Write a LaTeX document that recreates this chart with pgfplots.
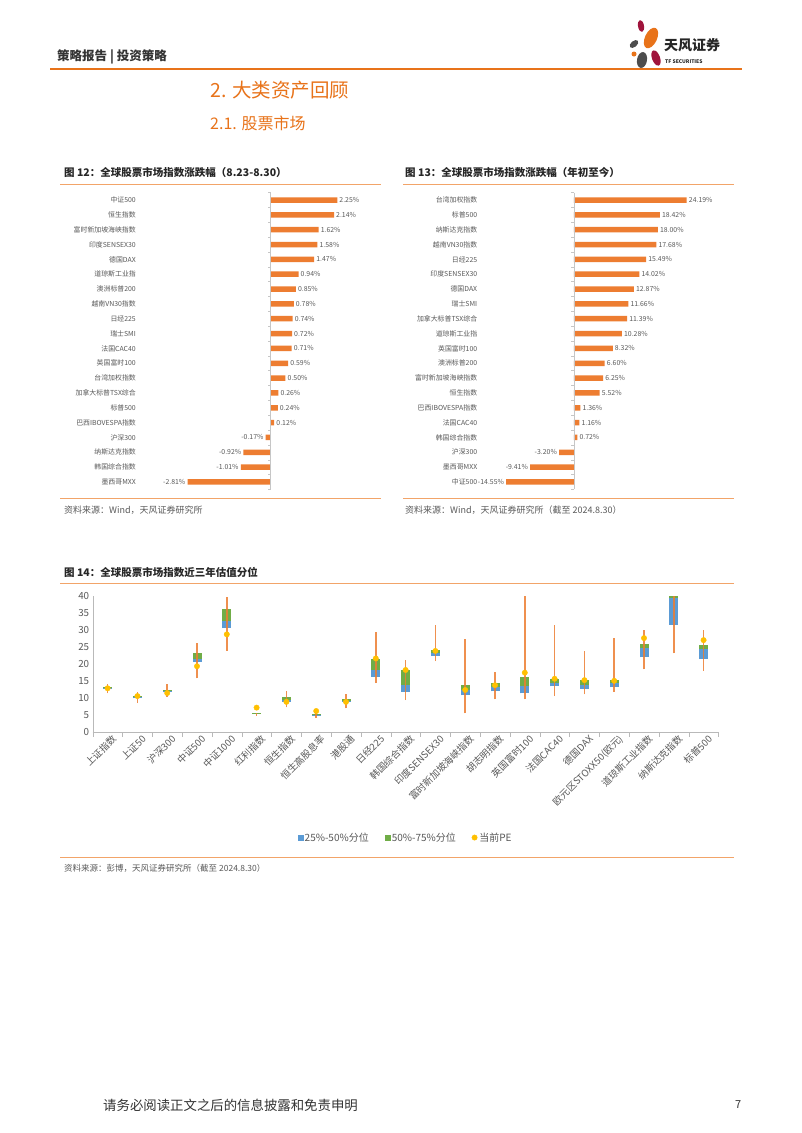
\documentclass[border=0pt]{standalone}
\usepackage{fontspec}
\setmainfont{Noto Sans CJK SC}
\usepackage{pgfplots}
\pgfplotsset{compat=1.18}
\definecolor{bOrange}{HTML}{ED7D31}
\definecolor{bBlue}{HTML}{5B9BD5}
\definecolor{bGreen}{HTML}{70AD47}
\definecolor{bYellow}{HTML}{FFC000}
\definecolor{labgray}{HTML}{595959}
\definecolor{lineOr}{HTML}{F2A469}
\definecolor{headOr}{HTML}{E8731A}
\definecolor{logoRed}{HTML}{A0143C}
\definecolor{logoGray}{HTML}{4D4D4D}
\begin{document}
\begin{tikzpicture}[x=1pt,y=1pt]
\useasboundingbox (0,0) rectangle (802,-1133);
\fill[white] (0,0) rectangle (802,-1133);
% header
\node[anchor=west, font=\fontsize{12.5}{13}\selectfont\bfseries, text=black!80, inner sep=0] at (57,-57) {策略报告 | 投资策略};
\draw[headOr, line width=1.3pt] (50,-69) -- (742,-69);
% logo
\fill[headOr, rotate around={-25:(651,-38)}] (651,-38) ellipse (6 and 11);
\fill[logoRed, rotate around={10:(641,-26)}] (641,-26) ellipse (3 and 6);
\fill[logoGray, rotate around={40:(634,-44)}] (634,-44) ellipse (5 and 3);
\fill[logoGray, rotate around={-10:(642,-60)}] (642,-60) ellipse (5 and 8);
\fill[logoRed, rotate around={20:(656,-58)}] (656,-58) ellipse (4 and 8);
\fill[headOr] (634,-54) circle (2.5);
\node[anchor=west, font=\fontsize{14}{14}\selectfont\bfseries, text=black!85, inner sep=0] at (664,-45) {天风证券};
\node[anchor=west, font=\fontsize{5}{5}\selectfont\bfseries, text=black!85, inner sep=0] at (665,-62) {TF SECURITIES};
% headings
\node[anchor=west, font=\fontsize{19.5}{20}\selectfont, text=headOr, inner sep=0] at (210,-90) {2. 大类资产回顾};
\node[anchor=west, font=\fontsize{16}{16}\selectfont, text=headOr, inner sep=0] at (210,-123) {2.1. 股票市场};
% chart titles and lines
\node[anchor=west, font=\fontsize{10.5}{11}\selectfont\bfseries, text=black!85, inner sep=0] at (64,-172) {图 12：全球股票市场指数涨跌幅（8.23-8.30）};
\node[anchor=west, font=\fontsize{10.5}{11}\selectfont\bfseries, text=black!85, inner sep=0] at (405,-172) {图 13：全球股票市场指数涨跌幅（年初至今）};
\draw[lineOr, line width=1pt] (60,-184) -- (381,-184);
\draw[lineOr, line width=1pt] (403,-184) -- (734,-184);
\draw[lineOr, line width=1pt] (60,-498) -- (381,-498);
\draw[lineOr, line width=1pt] (403,-498) -- (734,-498);
\node[anchor=west, font=\fontsize{9}{9}\selectfont, text=labgray, inner sep=0] at (64,-510) {资料来源：Wind，天风证券研究所};
\node[anchor=west, font=\fontsize{9}{9}\selectfont, text=labgray, inner sep=0] at (405,-510) {资料来源：Wind，天风证券研究所（截至 2024.8.30）};
\node[anchor=west, font=\fontsize{10.5}{11}\selectfont\bfseries, text=black!85, inner sep=0] at (64,-572) {图 14：全球股票市场指数近三年估值分位};
\draw[lineOr, line width=1pt] (60,-583) -- (734,-583);
\draw[lineOr, line width=1pt] (60,-857) -- (734,-857);
\node[anchor=west, font=\fontsize{8.5}{9}\selectfont, text=labgray, inner sep=0] at (64,-868) {资料来源：彭博，天风证券研究所（截至 2024.8.30）};
% footer
\node[anchor=west, font=\fontsize{13.4}{14}\selectfont, text=black!80, inner sep=0] at (103,-1105) {请务必阅读正文之后的信息披露和免责申明};
\node[anchor=west, font=\fontsize{11}{11}\selectfont, text=black!80, inner sep=0] at (735,-1105) {7};

% ---------- Chart 12 ----------
\begin{axis}[
  at={(137.5pt,-192.6pt)}, anchor=north west,
  scale only axis, width=242.7pt, height=296.8pt,
  xmin=-4.5, xmax=3.7, ymin=-0.5, ymax=19.5, y dir=reverse,
  xbar, bar width=5.5pt,
  axis line style={draw=none}, xtick=\empty,
  ytick={0,...,19}, major tick length=0pt,
  yticklabels={{中证500},{恒生指数},{富时新加坡海峡指数},{印度SENSEX30},{德国DAX},{道琼斯工业指},{澳洲标普200},{越南VN30指数},{日经225},{瑞士SMI},{法国CAC40},{英国富时100},{台湾加权指数},{加拿大标普TSX综合},{标普500},{巴西IBOVESPA指数},{沪深300},{纳斯达克指数},{韩国综合指数},{墨西哥MXX}},
  yticklabel style={font=\fontsize{6.9}{7}\selectfont, text=labgray, inner sep=1.5pt},
  point meta=x,
  nodes near coords={\pgfmathprintnumber[fixed,fixed zerofill,precision=2,assume math mode=true]{\pgfplotspointmeta}\%},
  nodes near coords align=horizontal,
  every node near coord/.append style={font=\fontsize{6.9}{7}\selectfont, text=labgray, inner sep=2pt},
  clip=false,
]
\addplot[fill=bOrange, draw=none] coordinates {
(2.25,0) (2.14,1) (1.62,2) (1.58,3) (1.47,4) (0.94,5) (0.85,6) (0.78,7) (0.74,8) (0.72,9)
(0.71,10) (0.59,11) (0.50,12) (0.26,13) (0.24,14) (0.12,15) (-0.17,16) (-0.92,17) (-1.01,18) (-2.81,19)};
\draw[gray!45] (axis cs:0,-0.5) -- (axis cs:0,19.5);
\pgfplotsinvokeforeach{-0.5,0.5,...,19.5}{\draw[gray!45] (axis cs:0,#1) -- ++(-2.5pt,0pt);}
\end{axis}

% ---------- Chart 13 ----------
\begin{axis}[
  at={(478.9pt,-192.6pt)}, anchor=north west,
  scale only axis, width=234.9pt, height=296.8pt,
  xmin=-20.4, xmax=30, ymin=-0.5, ymax=19.5, y dir=reverse,
  xbar, bar width=5.5pt,
  axis line style={draw=none}, xtick=\empty,
  ytick={0,...,19}, major tick length=0pt,
  yticklabels={{台湾加权指数},{标普500},{纳斯达克指数},{越南VN30指数},{日经225},{印度SENSEX30},{德国DAX},{瑞士SMI},{加拿大标普TSX综合},{道琼斯工业指},{英国富时100},{澳洲标普200},{富时新加坡海峡指数},{恒生指数},{巴西IBOVESPA指数},{法国CAC40},{韩国综合指数},{沪深300},{墨西哥MXX},{中证500}},
  yticklabel style={font=\fontsize{6.9}{7}\selectfont, text=labgray, inner sep=1.5pt},
  point meta=x,
  nodes near coords={\pgfmathprintnumber[fixed,fixed zerofill,precision=2,assume math mode=true]{\pgfplotspointmeta}\%},
  nodes near coords align=horizontal,
  every node near coord/.append style={font=\fontsize{6.9}{7}\selectfont, text=labgray, inner sep=2pt},
  clip=false,
]
\addplot[fill=bOrange, draw=none] coordinates {
(24.19,0) (18.42,1) (18.00,2) (17.68,3) (15.49,4) (14.02,5) (12.87,6) (11.66,7) (11.39,8) (10.28,9)
(8.32,10) (6.60,11) (6.25,12) (5.52,13) (1.36,14) (1.16,15) (0.72,16) (-3.20,17) (-9.41,18) (-14.55,19)};
\draw[gray!45] (axis cs:0,-0.5) -- (axis cs:0,19.5);
\pgfplotsinvokeforeach{-0.5,0.5,...,19.5}{\draw[gray!45] (axis cs:0,#1) -- ++(-2.5pt,0pt);}
\end{axis}

% ---------- Chart 14 ----------
\begin{axis}[
  at={(92.7pt,-596pt)}, anchor=north west,
  scale only axis, width=625.8pt, height=135.7pt,
  xmin=-0.5, xmax=20.5, ymin=0, ymax=40,
  axis lines*=left, axis line style={draw=gray!55},
  ytick={0,5,...,40},
  xtick={0,...,20},
  minor xtick={-0.5,0.5,...,20.5},
  major tick length=0pt, minor tick length=5pt, tick align=outside,
  minor tick style={draw=gray!55},
  xticklabels={{上证指数},{上证50},{沪深300},{中证500},{中证1000},{红利指数},{恒生指数},{恒生高股息率},{港股通},{日经225},{韩国综合指数},{印度SENSEX30},{富时新加坡海峡指数},{胡志明指数},{英国富时100},{法国CAC40},{德国DAX},{欧元区STOXX50(欧元)},{道琼斯工业指数},{纳斯达克指数},{标普500}},
  xticklabel style={rotate=45, anchor=north east, font=\fontsize{9.6}{10}\selectfont, text=labgray, inner sep=1pt, yshift=-3pt, xshift=2pt},
  yticklabel style={font=\fontsize{9.8}{10}\selectfont, text=labgray},
  /pgf/number format/assume math mode=true,
  unbounded coords=jump,
  legend style={at={(0.5,-0.78)}, anchor=center, legend columns=3, draw=none,
    font=\fontsize{10}{10}\selectfont, text=labgray,
    /tikz/every even column/.append style={column sep=14pt}},
  legend cell align=left,
]
% 25%-50% boxes (q1 -> median)
\addplot[bBlue, line width=9pt, forget plot] coordinates {
(0,12.6)(0,12.9)(0,nan) (1,9.8)(1,10.1)(1,nan) (2,11.6)(2,12.0)(2,nan) (3,20.5)(3,21.5)(3,nan)
(4,30.5)(4,32.7)(4,nan) (5,5.3)(5,5.45)(5,nan) (6,8.8)(6,9.3)(6,nan) (7,4.7)(7,4.9)(7,nan)
(8,8.9)(8,9.2)(8,nan) (9,16.2)(9,18.2)(9,nan) (10,11.8)(10,13.8)(10,nan) (11,22.4)(11,23.3)(11,nan)
(12,10.7)(12,12.3)(12,nan) (13,11.9)(13,13.3)(13,nan) (14,11.3)(14,13.6)(14,nan) (15,13.4)(15,14.5)(15,nan)
(16,12.7)(16,13.9)(16,nan) (17,13.1)(17,14.3)(17,nan) (18,21.9)(18,24.6)(18,nan) (19,31.5)(19,39.3)(19,nan)
(20,21.4)(20,24.3)};
% 50%-75% boxes (median -> q3)
\addplot[bGreen, line width=9pt, forget plot] coordinates {
(0,12.9)(0,13.3)(0,nan) (1,10.1)(1,10.4)(1,nan) (2,12.0)(2,12.4)(2,nan) (3,21.5)(3,23.1)(3,nan)
(4,32.7)(4,36.1)(4,nan) (5,5.45)(5,5.6)(5,nan) (6,9.3)(6,10.1)(6,nan) (7,4.9)(7,5.1)(7,nan)
(8,9.2)(8,9.6)(8,nan) (9,18.2)(9,21.3)(9,nan) (10,13.8)(10,18.2)(10,nan) (11,23.3)(11,24.2)(11,nan)
(12,12.3)(12,13.8)(12,nan) (13,13.3)(13,14.4)(13,nan) (14,13.6)(14,16.0)(14,nan) (15,14.5)(15,15.6)(15,nan)
(16,13.9)(16,15.1)(16,nan) (17,14.3)(17,15.2)(17,nan) (18,24.6)(18,26.0)(18,nan) (19,39.3)(19,40.0)(19,nan)
(20,24.3)(20,25.6)};
% whiskers (min -> max)
\addplot[bOrange, line width=1.6pt, opacity=0.85, forget plot] coordinates {
(0,11.3)(0,14.0)(0,nan) (1,8.4)(1,11.6)(1,nan) (2,10.3)(2,14.2)(2,nan) (3,15.7)(3,26.2)(3,nan)
(4,23.9)(4,39.7)(4,nan) (5,4.7)(5,5.6)(5,nan) (6,7.2)(6,12.1)(6,nan) (7,4.1)(7,5.9)(7,nan)
(8,6.9)(8,11.1)(8,nan) (9,14.3)(9,29.5)(9,nan) (10,9.3)(10,21.1)(10,nan) (11,20.8)(11,31.5)(11,nan)
(12,5.4)(12,27.3)(12,nan) (13,9.5)(13,17.7)(13,nan) (14,9.5)(14,40.0)(14,nan) (15,10.5)(15,31.6)(15,nan)
(16,11.0)(16,23.9)(16,nan) (17,11.8)(17,27.5)(17,nan) (18,18.4)(18,30.0)(18,nan) (19,23.1)(19,40.0)(19,nan)
(20,17.9)(20,30.0)};
% current PE
\addplot[only marks, mark=*, mark size=2.7pt, color=bYellow, forget plot] coordinates {
(0,12.8) (1,10.5) (2,11.4) (3,19.3) (4,28.7) (5,7.1) (6,8.8) (7,6.1) (8,8.8) (9,21.6)
(10,18.2) (11,23.8) (12,12.3) (13,13.7) (14,17.4) (15,15.6) (16,15.2) (17,15.0) (18,27.6) (20,27.0)};
\addlegendimage{only marks, mark=square*, mark size=2.5pt, color=bBlue}
\addlegendentry{25\%-50\%分位}
\addlegendimage{only marks, mark=square*, mark size=2.5pt, color=bGreen}
\addlegendentry{50\%-75\%分位}
\addlegendimage{only marks, mark=*, mark size=2.7pt, color=bYellow}
\addlegendentry{当前PE}
\end{axis}
\end{tikzpicture}
\end{document}
